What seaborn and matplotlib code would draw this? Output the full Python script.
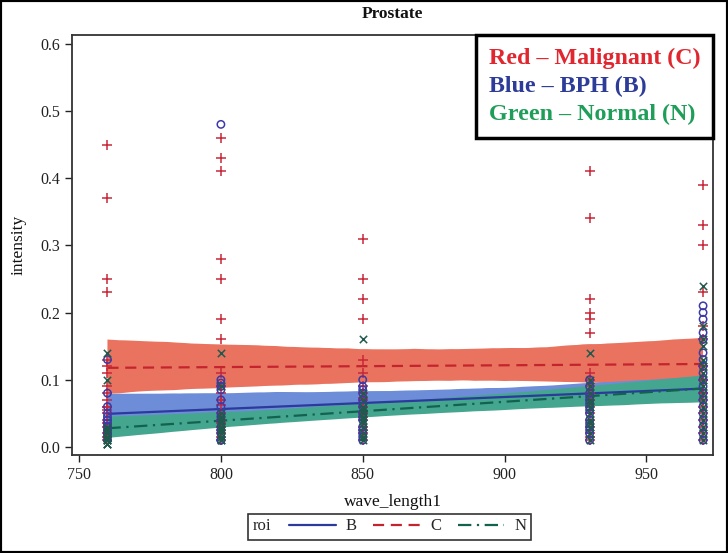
import matplotlib
matplotlib.use('Agg')
import matplotlib.pyplot as plt
import seaborn as sns
import pandas as pd
from matplotlib.lines import Line2D
from matplotlib.patches import Rectangle
from matplotlib.offsetbox import HPacker, VPacker, TextArea, AnchoredOffsetbox

# ---------------- data ----------------
wavelengths = [760, 800, 850, 930, 970]
roi_groups = ['B', 'C', 'N']

# Malignant (C) intensities per wavelength
c_values = [
    [0.45, 0.37, 0.25, 0.23, 0.13, 0.12, 0.11, 0.09, 0.08, 0.07, 0.06, 0.06, 0.055, 0.05, 0.04, 0.035, 0.03, 0.02, 0.015, 0.01],
    [0.46, 0.43, 0.41, 0.28, 0.25, 0.19, 0.16, 0.11, 0.09, 0.09, 0.08, 0.07, 0.07, 0.063, 0.05, 0.04, 0.035, 0.03, 0.025, 0.02, 0.015, 0.01],
    [0.31, 0.25, 0.22, 0.19, 0.13, 0.11, 0.09, 0.08, 0.073, 0.07, 0.06, 0.05, 0.045, 0.04, 0.03, 0.025, 0.02, 0.01],
    [0.41, 0.34, 0.22, 0.20, 0.19, 0.17, 0.11, 0.10, 0.09, 0.08, 0.07, 0.07, 0.06, 0.05, 0.04, 0.03, 0.02, 0.015, 0.01],
    [0.39, 0.33, 0.30, 0.23, 0.18, 0.16, 0.12, 0.12, 0.10, 0.10, 0.08, 0.08, 0.07, 0.06, 0.05, 0.04, 0.03, 0.02, 0.01],
]
# BPH (B)
b_values = [
    [0.13, 0.08, 0.06, 0.05, 0.045, 0.04, 0.04, 0.035, 0.03, 0.03, 0.025, 0.02, 0.02, 0.015, 0.01],
    [0.48, 0.10, 0.095, 0.09, 0.085, 0.07, 0.06, 0.05, 0.045, 0.04, 0.03, 0.025, 0.02, 0.01, 0.01],
    [0.10, 0.09, 0.085, 0.08, 0.07, 0.065, 0.06, 0.05, 0.045, 0.04, 0.03, 0.025, 0.02, 0.015, 0.01],
    [0.10, 0.09, 0.08, 0.075, 0.07, 0.065, 0.06, 0.055, 0.05, 0.04, 0.035, 0.03, 0.025, 0.02, 0.01],
    [0.21, 0.20, 0.19, 0.17, 0.16, 0.14, 0.13, 0.12, 0.11, 0.10, 0.09, 0.08, 0.07, 0.06, 0.05, 0.04, 0.03, 0.02, 0.01],
]
# Normal (N)
n_values = [
    [0.14, 0.10, 0.03, 0.025, 0.02, 0.02, 0.015, 0.01, 0.01, 0.01, 0.005, 0.005, 0.005],
    [0.14, 0.09, 0.05, 0.045, 0.04, 0.035, 0.03, 0.03, 0.025, 0.025, 0.02, 0.015, 0.01, 0.01],
    [0.16, 0.08, 0.07, 0.06, 0.055, 0.05, 0.045, 0.04, 0.035, 0.03, 0.02, 0.015, 0.01],
    [0.14, 0.10, 0.09, 0.08, 0.07, 0.065, 0.06, 0.05, 0.04, 0.035, 0.03, 0.02, 0.01],
    [0.24, 0.18, 0.16, 0.15, 0.13, 0.12, 0.11, 0.10, 0.09, 0.08, 0.07, 0.06, 0.05, 0.04, 0.03, 0.02, 0.01],
]

x_ticks = [750, 800, 850, 900, 950]
y_ticks = [0.0, 0.1, 0.2, 0.3, 0.4, 0.5, 0.6]

rows = []
for roi, vals in zip(roi_groups, [b_values, c_values, n_values]):
    for wl, col in zip(wavelengths, vals):
        for v in col:
            rows.append((roi, wl, v))
df = pd.DataFrame(rows, columns=['roi', 'wave_length1', 'intensity'])

# ---------------- style ----------------
sns.set_theme(style='white')
plt.rcParams['font.family'] = ['Liberation Serif', 'DejaVu Serif']

styles = {
    'C': dict(line='#C4242E', band='#E9735F', ls=(0, (5, 3)), marker='+', mcol='#C8283A', face=None, s=42),
    'B': dict(line='#2B3A9B', band='#6D8DD8', ls='-', marker='o', mcol='#3D3AA8', face='none', s=28),
    'N': dict(line='#12624F', band='#44A68F', ls=(0, (6, 2.5, 1, 2.5)), marker='x', mcol='#1F5A4C', face=None, s=28),
}

fig = plt.figure(figsize=(7.28, 5.53), dpi=100)
ax = fig.add_axes([72 / 728, 1 - 455 / 553, (713 - 72) / 728, (455 - 35) / 553])

for roi in ['C', 'B', 'N']:
    st = styles[roi]
    sub = df[df['roi'] == roi]
    skw = dict(color=st['mcol'], s=st['s'], linewidths=1.1, alpha=1, zorder=3)
    if st['face'] is not None:
        skw['facecolors'] = st['face']
    n_before = len(ax.collections)
    sns.regplot(data=sub, x='wave_length1', y='intensity', ax=ax, ci=95, n_boot=1000, seed=3,
                truncate=True, marker=st['marker'], scatter_kws=skw,
                line_kws=dict(color=st['line'], linestyle=st['ls'], linewidth=1.6, zorder=2.5))
    for coll in ax.collections[n_before:]:
        if coll.__class__.__name__ in ('PolyCollection', 'FillBetweenPolyCollection'):
            coll.set_facecolor(st['band'])
            coll.set_edgecolor('none')
            coll.set_alpha(1)
            coll.set_zorder(1)

ax.set_xlim(747.5, 973.5)
ax.set_ylim(-0.012, 0.613)
ax.set_xticks(x_ticks)
ax.set_xticklabels([str(t) for t in x_ticks])
ax.set_yticks(y_ticks)
ax.set_yticklabels([f'{t:.1f}' for t in y_ticks])
ax.tick_params(bottom=True, left=True, direction='out', length=5, width=1,
               labelsize=11.5, colors='#222222', labelcolor='#222222')
for sp in ax.spines.values():
    sp.set_color('#333333')
    sp.set_linewidth(1.3)
ax.set_xlabel('wave_length1', fontsize=12.5, color='#111111', labelpad=8)
ax.set_ylabel('intensity', fontsize=12.5, color='#111111', labelpad=10)
ax.set_title('Prostate', fontsize=12.5, fontweight='bold', color='#111111', pad=12)

# annotation box (top right)
txt_kw = dict(fontsize=17.3, fontweight='bold', family=['Liberation Serif', 'DejaVu Serif'])
t1 = TextArea('Red – Malignant (C)', textprops=dict(color='#E0262E', **txt_kw))
t2 = TextArea('Blue – BPH (B)', textprops=dict(color='#2D3C98', **txt_kw))
t3 = TextArea('Green – Normal (N)', textprops=dict(color='#1E9E58', **txt_kw))
vp = VPacker(children=[t1, t2, t3], align='left', pad=0, sep=5)
ab = AnchoredOffsetbox(loc='upper right', child=vp, pad=0.85, borderpad=0, frameon=True,
                       bbox_to_anchor=(1.0, 1.0), bbox_transform=ax.transAxes)
ab.patch.set_edgecolor('black')
ab.patch.set_linewidth(2.5)
ab.patch.set_facecolor('white')
ab.set_zorder(5)
ax.add_artist(ab)

# bottom legend
handles = [Line2D([], [], color=styles[r]['line'], linestyle=styles[r]['ls'], linewidth=1.6) for r in roi_groups]
leg = fig.legend(handles, roi_groups, title='roi', ncol=3, loc='center',
                 bbox_to_anchor=(389.5 / 728, 1 - 526.5 / 553), frameon=True, fancybox=False,
                 edgecolor='black', fontsize=12, title_fontsize=12, handlelength=2.8,
                 columnspacing=1.0, handletextpad=0.6, borderpad=0.3)
leg.get_frame().set_linewidth(1.2)
try:
    newbox = HPacker(pad=leg.borderpad * leg._fontsize, sep=13, align='center',
                     children=[leg._legend_title_box, leg._legend_handle_box])
    newbox.set_figure(fig)
    newbox.set_offset(leg._findoffset)
    leg._legend_box = newbox
except Exception:
    pass

# outer frame
fig.patches.append(Rectangle((0, 0), 1, 1, transform=fig.transFigure, fill=False,
                             linewidth=3, edgecolor='black'))

fig.savefig('out.png', dpi=100)
